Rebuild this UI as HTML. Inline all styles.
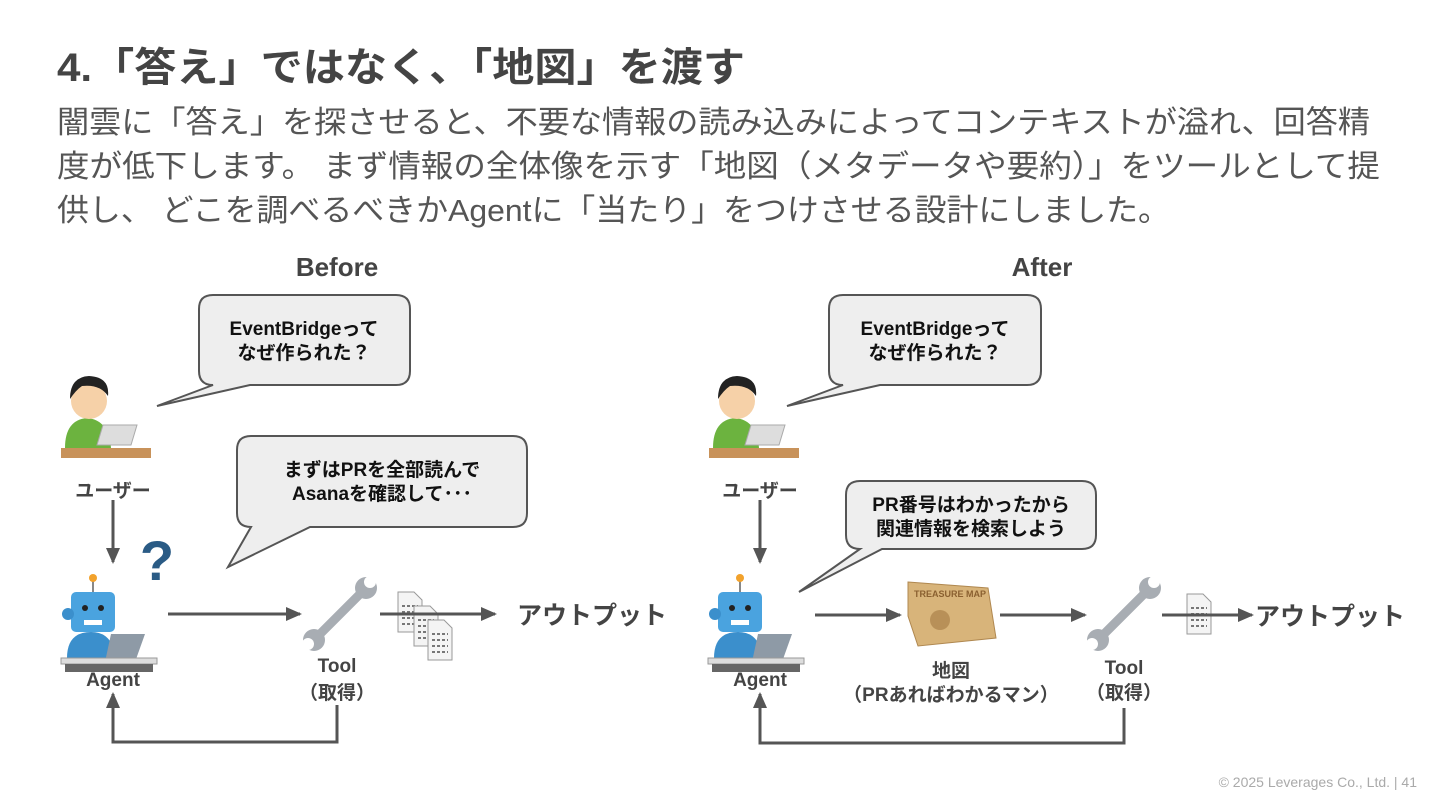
<!DOCTYPE html>
<html><head><meta charset="utf-8"><style>
html,body{margin:0;padding:0;background:#fff;}
svg{display:block;font-family:"Liberation Sans","Noto Sans CJK JP",sans-serif;}
</style></head><body>
<svg width="1440" height="810" viewBox="0 0 1440 810" xmlns="http://www.w3.org/2000/svg">
<defs>
<marker id="ah" markerWidth="16" markerHeight="14" refX="14" refY="7" orient="auto" markerUnits="userSpaceOnUse"><path d="M0,0 L16,7 L0,14 z" fill="#555"/></marker>
<g id="user">
 <rect x="-42" y="45" width="90" height="10" fill="#c8925a"/>
 <path d="M-38 45 q0-28 22-30 q22 2 24 30z" fill="#6cb33f"/>
 <circle cx="-14" cy="-2" r="18" fill="#f6d1a8"/>
 <path d="M-33 -4 q0-22 19-23 q21 1 19 20 q-8-12-26-10 q-6 4-12 13z" fill="#222"/>
 <path d="M0 22 h34 l-6 20 h-34z" fill="#ddd" stroke="#aaa"/>
</g>
<g id="robot">
 <line x1="0" y1="-40" x2="0" y2="-28" stroke="#888" stroke-width="2"/><circle cx="0" cy="-42" r="4" fill="#f2a22c"/>
 <rect x="-22" y="-28" width="44" height="40" rx="5" fill="#4aa3df"/>
 <circle cx="-25" cy="-6" r="6" fill="#3b8fcc"/>
 <circle cx="-8" cy="-12" r="3" fill="#222"/><circle cx="8" cy="-12" r="3" fill="#222"/>
 <rect x="-9" y="0" width="18" height="5" fill="#fff"/>
 <path d="M-26 38 q0-26 24-26 q22 0 24 26z" fill="#3b8fcc"/>
 <path d="M18 14 h34 l-10 28 h-30z" fill="#8e9aa6"/>
 <rect x="-32" y="38" width="96" height="6" fill="#ddd" stroke="#999"/>
 <rect x="-28" y="44" width="88" height="8" fill="#666"/>
</g>
<g id="wrench">
 <line x1="-22" y1="22" x2="22" y2="-22" stroke="#a8adb3" stroke-width="9" stroke-linecap="round"/>
 <circle cx="26" cy="-26" r="11" fill="#a8adb3"/><circle cx="30" cy="-32" r="6" fill="#fff"/>
 <circle cx="-26" cy="26" r="11" fill="#a8adb3"/><circle cx="-32" cy="30" r="6" fill="#fff"/>
</g>
<g id="doc">
 <path d="M0 0 h16 l8 8 v32 h-24z" fill="#f4f4f4" stroke="#999"/>
 <g stroke="#777" stroke-width="2" stroke-dasharray="3 2"><line x1="4" y1="14" x2="20" y2="14"/><line x1="4" y1="20" x2="20" y2="20"/><line x1="4" y1="26" x2="20" y2="26"/><line x1="4" y1="32" x2="20" y2="32"/></g>
</g>
</defs>

<text x="57" y="81" font-size="40" font-weight="bold" fill="#444" textLength="688" lengthAdjust="spacingAndGlyphs">4.「答え」ではなく、「地図」を渡す</text>
<g font-size="31" fill="#555">
<text x="57" y="133" textLength="1313" lengthAdjust="spacingAndGlyphs">闇雲に「答え」を探させると、不要な情報の読み込みによってコンテキストが溢れ、回答精</text>
<text x="57" y="177" textLength="1323" lengthAdjust="spacingAndGlyphs">度が低下します。 まず情報の全体像を示す「地図（メタデータや要約）」をツールとして提</text>
<text x="57" y="221" textLength="1113" lengthAdjust="spacingAndGlyphs">供し、 どこを調べるべきかAgentに「当たり」をつけさせる設計にしました。</text>
</g>

<g font-weight="bold" fill="#444" text-anchor="middle">
<text x="337" y="276" font-size="26">Before</text>
<text x="1042" y="276" font-size="26">After</text>
</g>

<!-- bubbles -->
<g fill="#eeeeee" stroke="#555" stroke-width="2">
<path d="M213 295 H396 Q410 295 410 309 V371 Q410 385 396 385 H250 L157 406 L213 385 Q199 385 199 371 V309 Q199 295 213 295Z"/>
<path d="M251 436 H513 Q527 436 527 450 V513 Q527 527 513 527 H310 L228 567 L251 527 Q237 527 237 513 V450 Q237 436 251 436Z"/>
<path d="M843 295 H1027 Q1041 295 1041 309 V371 Q1041 385 1027 385 H880 L787 406 L843 385 Q829 385 829 371 V309 Q829 295 843 295Z"/>
<path d="M860 481 H1082 Q1096 481 1096 495 V535 Q1096 549 1082 549 H882 L799 592 L860 549 Q846 549 846 535 V495 Q846 481 860 481Z"/>
</g>
<g font-size="19" font-weight="bold" fill="#111" text-anchor="middle">
<text x="304" y="335">EventBridgeって</text><text x="304" y="359">なぜ作られた？</text>
<text x="382" y="476">まずはPRを全部読んで</text><text x="382" y="500">Asanaを確認して･･･</text>
<text x="935" y="335">EventBridgeって</text><text x="935" y="359">なぜ作られた？</text>
<text x="971" y="511">PR番号はわかったから</text><text x="971" y="535">関連情報を検索しよう</text>
</g>

<!-- icons -->
<use href="#user" x="103" y="403"/>
<use href="#user" x="751" y="403"/>
<use href="#robot" x="93" y="620"/>
<use href="#robot" x="740" y="620"/>
<text x="157" y="580" font-size="56" font-weight="bold" fill="#2a5b85" text-anchor="middle">?</text>
<use href="#wrench" x="340" y="614"/>
<use href="#wrench" x="1124" y="614"/>
<use href="#doc" x="398" y="592"/><use href="#doc" x="414" y="606"/><use href="#doc" x="428" y="620"/>
<use href="#doc" x="1187" y="594"/>
<path d="M908 582 l80 6 l8 50 l-78 8 l-10-30z" fill="#d8b47a" stroke="#b08850"/>
<text x="950" y="597" font-size="9" font-weight="bold" fill="#8a6030" text-anchor="middle">TREASURE MAP</text>
<circle cx="940" cy="620" r="10" fill="#b89058"/>

<!-- arrows -->
<g stroke="#555" stroke-width="3" fill="none" marker-end="url(#ah)">
<line x1="113" y1="500" x2="113" y2="562"/>
<line x1="168" y1="614" x2="300" y2="614"/>
<line x1="380" y1="614" x2="495" y2="614"/>
<polyline points="337,705 337,742 113,742 113,694"/>
<line x1="760" y1="500" x2="760" y2="562"/>
<line x1="815" y1="615" x2="900" y2="615"/>
<line x1="1000" y1="615" x2="1085" y2="615"/>
<line x1="1162" y1="615" x2="1252" y2="615"/>
<polyline points="1124,708 1124,743 760,743 760,694"/>
</g>

<g font-weight="bold" fill="#444" text-anchor="middle" font-size="19">
<text x="113" y="497">ユーザー</text>
<text x="760" y="497">ユーザー</text>
<text x="113" y="686">Agent</text>
<text x="760" y="686">Agent</text>
<text x="337" y="672">Tool</text><text x="337" y="699">（取得）</text>
<text x="1124" y="674">Tool</text><text x="1124" y="699">（取得）</text>
<text x="951" y="677">地図</text><text x="951" y="701">（PRあればわかるマン）</text>
<text x="592" y="624" font-size="25">アウトプット</text>
<text x="1330" y="625" font-size="25">アウトプット</text>
</g>

<text x="1417" y="787" font-size="14" fill="#aaa" text-anchor="end">© 2025 Leverages Co., Ltd.  |  41</text>
</svg>
</body></html>
